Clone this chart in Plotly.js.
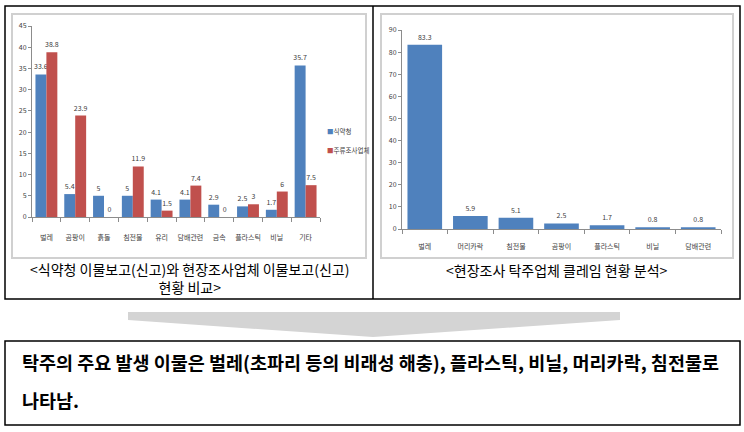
<!DOCTYPE html>
<html><head><meta charset="utf-8">
<script src="https://cdn.plot.ly/plotly-3.0.1.min.js"></script>
<style>html,body{margin:0;padding:0;background:#fff}#chart{width:744px;height:432px}</style>
</head><body><div id="chart"></div>
<script>
// Left chart data
const leftCategories = ['벌레','곰팡이','흙돌','침전물','유리','담배관련','금속','플라스틱','비닐','기타'];
const kfdaValues = [33.6, 5.4, 5, 5, 4.1, 4.1, 2.9, 2.5, 1.7, 35.7];
const surveyValues = [38.8, 23.9, 0, 11.9, 1.5, 7.4, 0, 3, 6, 7.5];
const leftSeriesNames = ['식약청', '주류조사업체'];
const leftTicks = [0,5,10,15,20,25,30,35,40,45];
// Right chart data
const rightCategories = ['벌레','머리카락','침전물','곰팡이','플라스틱','비닐','담배관련'];
const rightValues = [83.3, 5.9, 5.1, 2.5, 1.7, 0.8, 0.8];
const rightTicks = [0,10,20,30,40,50,60,70,80,90];
// Texts
const leftCaption = '&lt;식약청 이물보고(신고)와 현장조사업체 이물보고(신고)<br>현황 비교&gt;';
const rightCaption = '&lt;현장조사 탁주업체 클레임 현황 분석&gt;';
const summaryLine1 = '탁주의 주요 발생 이물은 벌레(초파리 등의 비래성 해충), 플라스틱, 비닐, 머리카락, 침전물로';
const summaryLine2 = '나타남.';

const W = 744, H = 432;
const px = x => x / W;
const py = y => 1 - y / H;
const KR = '"Noto Sans CJK KR", "Noto Sans", sans-serif';
const BLUE = '#4F81BD', RED = '#C0504D';

const fmt = v => String(v);

const traces = [
  {type:'bar', x:leftCategories, y:kfdaValues, name:leftSeriesNames[0], marker:{color:BLUE},
   text:kfdaValues.map(fmt), textposition:'outside', cliponaxis:false, constraintext:'none',
   textfont:{size:7, color:'#404040', family:KR}, xaxis:'x', yaxis:'y', hoverinfo:'none'},
  {type:'bar', x:leftCategories, y:surveyValues, name:leftSeriesNames[1], marker:{color:RED},
   text:surveyValues.map(fmt), textposition:'outside', cliponaxis:false, constraintext:'none',
   textfont:{size:7, color:'#404040', family:KR}, xaxis:'x', yaxis:'y', hoverinfo:'none'},
  {type:'bar', x:rightCategories, y:rightValues, marker:{color:BLUE},
   text:rightValues.map(fmt), textposition:'outside', cliponaxis:false, constraintext:'none',
   textfont:{size:7, color:'#404040', family:KR}, xaxis:'x2', yaxis:'y2', hoverinfo:'none'}
];

const axisCommon = {
  showgrid:false, zeroline:false, showline:true, linecolor:'#8c8c8c', linewidth:1,
  ticks:'outside', ticklen:3, tickcolor:'#8c8c8c', fixedrange:true,
  tickfont:{size:7, color:'#404040', family:KR}
};

const layout = {
  width:W, height:H, margin:{l:0,r:0,t:0,b:0},
  paper_bgcolor:'#fff', plot_bgcolor:'rgba(0,0,0,0)',
  barmode:'group', bargap:0.24, bargroupgap:0,
  font:{family:KR},
  showlegend:false,
  xaxis:Object.assign({}, axisCommon, {domain:[px(32), px(320)], anchor:'y', tickson:'boundaries', ticklen:4, tickangle:0, ticklabelstandoff:14}),
  yaxis:Object.assign({}, axisCommon, {domain:[py(217), py(26)], anchor:'x', range:[0,45], tickvals:leftTicks}),
  xaxis2:Object.assign({}, axisCommon, {domain:[px(402), px(721)], anchor:'y2', tickson:'boundaries', ticklen:4, tickangle:0, ticklabelstandoff:11}),
  yaxis2:Object.assign({}, axisCommon, {domain:[py(229), py(30)], anchor:'x2', range:[0,90], tickvals:rightTicks}),
  shapes:[
    // outer table
    {type:'rect', xref:'paper', yref:'paper', x0:px(5), x1:px(740), y0:py(6), y1:py(299), line:{color:'#000', width:1.5}},
    {type:'line', xref:'paper', yref:'paper', x0:px(373), x1:px(373), y0:py(6), y1:py(299), line:{color:'#000', width:1.5}},
    // chart panels
    {type:'rect', xref:'paper', yref:'paper', x0:px(12), x1:px(366), y0:py(14), y1:py(258), line:{color:'#d0d0d0', width:2}},
    {type:'rect', xref:'paper', yref:'paper', x0:px(381), x1:px(733), y0:py(14), y1:py(258), line:{color:'#d0d0d0', width:2}},
    // arrow
    {type:'path', xref:'paper', yref:'paper',
     path:`M${px(128)},${py(312)} L${px(620)},${py(312)} L${px(620)},${py(320)} L${px(373)},${py(337)} L${px(128)},${py(320)} Z`,
     fillcolor:'#d4d4d4', line:{width:0}},
    // bottom box
    {type:'rect', xref:'paper', yref:'paper', x0:px(5), x1:px(740), y0:py(341), y1:py(425), line:{color:'#000', width:1.5}}
  ],
  annotations:[
    // manual legend for left chart
    {xref:'paper', yref:'paper', x:px(325), y:py(131), text:`<span style="color:${BLUE}">■</span>${leftSeriesNames[0]}`, showarrow:false, xanchor:'left', yanchor:'middle', font:{size:6.5, color:'#404040', family:KR}},
    {xref:'paper', yref:'paper', x:px(325), y:py(150), text:`<span style="color:${RED}">■</span>${leftSeriesNames[1]}`, showarrow:false, xanchor:'left', yanchor:'middle', font:{size:6.5, color:'#404040', family:KR}},
    // captions
    {xref:'paper', yref:'paper', x:px(189), y:py(278), text:leftCaption, showarrow:false, xanchor:'center', yanchor:'middle', font:{size:14, color:'#000', family:KR}},
    {xref:'paper', yref:'paper', x:px(557), y:py(270), text:rightCaption, showarrow:false, xanchor:'center', yanchor:'middle', font:{size:14, color:'#000', family:KR}},
    {xref:'paper', yref:'paper', x:px(20), y:py(362), text:summaryLine1, showarrow:false, xanchor:'left', yanchor:'middle', font:{size:18.5, color:'#000', family:KR, weight:600}},
    {xref:'paper', yref:'paper', x:px(20), y:py(400), text:summaryLine2, showarrow:false, xanchor:'left', yanchor:'middle', font:{size:18.5, color:'#000', family:KR, weight:600}}
  ]
};

Plotly.newPlot('chart', traces, layout, {staticPlot:true, displayModeBar:false});
</script></body></html>
